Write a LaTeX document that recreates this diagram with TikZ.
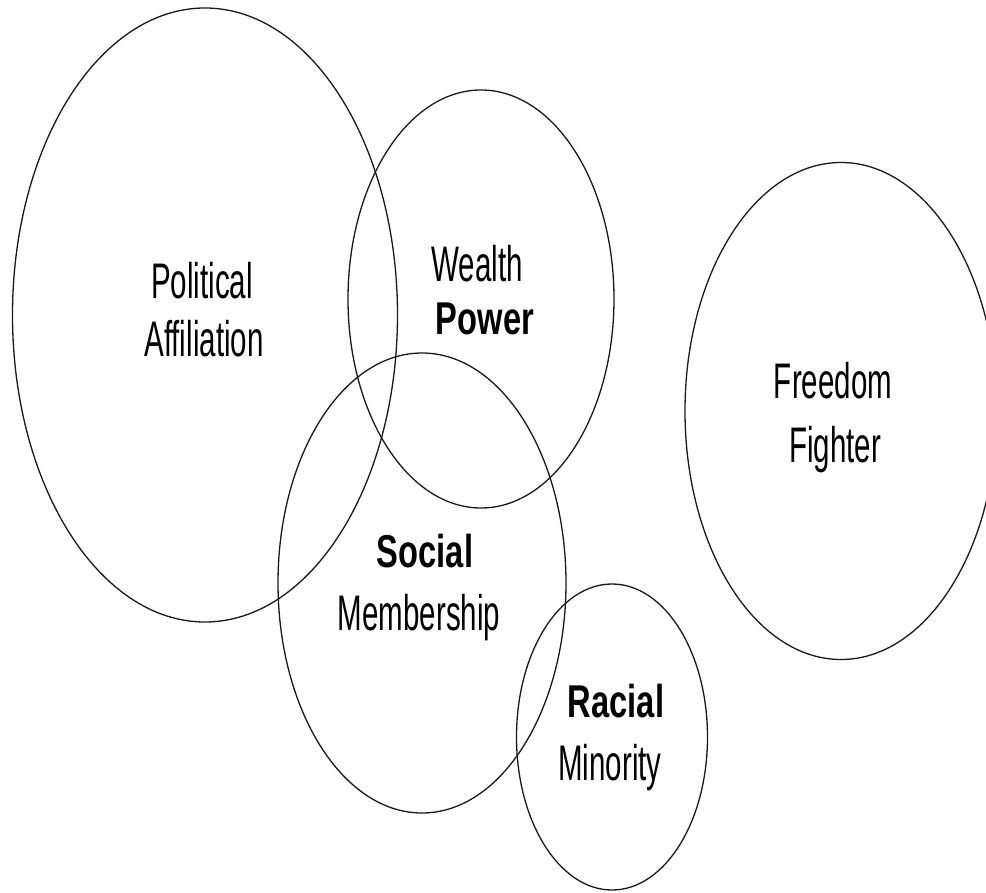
\documentclass[tikz,border=0pt]{standalone}
\usepackage{fontspec}
\usetikzlibrary{shapes.geometric}
% condensed sans faces for the set labels
\newfontfamily\thinlbl[FakeStretch=0.59]{Liberation Sans}
\newfontfamily\boldlbl[FakeStretch=0.71]{Liberation Sans}
\tikzset{
  setring/.style={ellipse, draw=black!90, line width=1.3pt, inner sep=0pt, fill=none},
  plainlbl/.style={anchor=base, inner sep=0pt, text=black, font=\thinlbl\fontsize{50}{58}\selectfont},
  stronglbl/.style={anchor=base, inner sep=0pt, text=black, font=\boldlbl\bfseries\fontsize{46}{54}\selectfont},
}
\begin{document}
\begin{tikzpicture}[x=1pt, y=-1pt]
  \useasboundingbox (0,0) rectangle (986,893);
  % the five sets
  \node[setring, minimum width=385pt, minimum height=614pt] (political) at (205,315) {};
  \node[setring, minimum width=266pt, minimum height=418pt] (wealth)    at (481,299) {};
  \node[setring, minimum width=288pt, minimum height=460pt] (social)    at (422,583) {};
  \node[setring, minimum width=191pt, minimum height=306pt] (racial)    at (612,737) {};
  \node[setring, minimum width=312pt, minimum height=497pt] (freedom)   at (841,411) {};
  % labels
  \node[plainlbl]  (politicalA) at (202,299) {Political};
  \node[plainlbl]  (politicalB) at (204,357) {Affiliation};
  \node[plainlbl]  (wealthA)    at (477,282) {Wealth};
  \node[stronglbl] (wealthB)    at (485,335) {Power};
  \node[stronglbl] (socialA)    at (425,567) {Social};
  \node[plainlbl]  (socialB)    at (419,630) {Membership};
  \node[stronglbl] (racialA)    at (616,717) {Racial};
  \node[plainlbl]  (racialB)    at (610,780) {Minority};
  \node[plainlbl]  (freedomA)   at (833,399) {Freedom};
  \node[plainlbl]  (freedomB)   at (835,462) {Fighter};
\end{tikzpicture}
\end{document}
